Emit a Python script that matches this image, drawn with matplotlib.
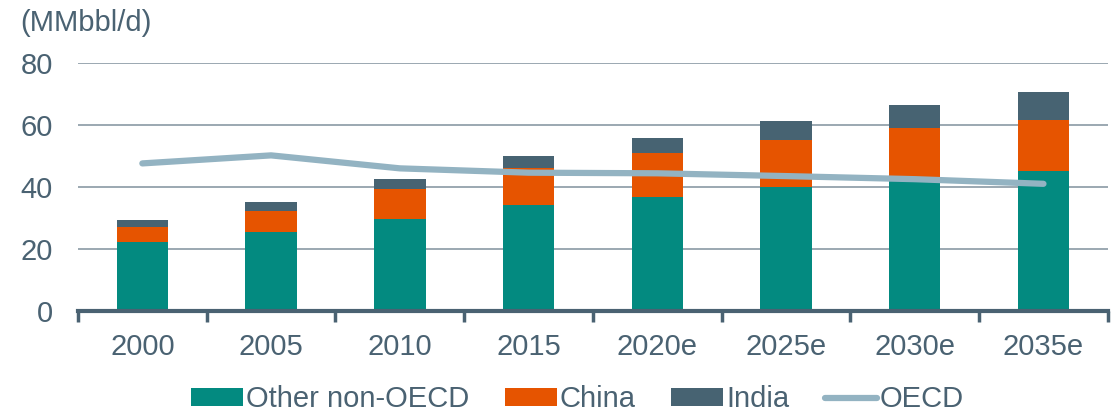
import matplotlib
matplotlib.use("Agg")
import matplotlib.pyplot as plt
import numpy as np

# data (MMbbl/d)
years = ["2000", "2005", "2010", "2015", "2020e", "2025e", "2030e", "2035e"]
other_non_oecd = [22.1, 25.3, 29.6, 34.0, 36.8, 39.9, 41.8, 45.2]
china = [4.8, 6.9, 9.6, 12.0, 14.3, 15.4, 17.2, 16.3]
india = [2.4, 2.8, 3.4, 4.0, 4.8, 6.1, 7.5, 9.1]
oecd = [47.6, 50.2, 46.0, 44.6, 44.4, 43.5, 42.5, 41.0]

c_other = "#038a80"
c_china = "#e65400"
c_india = "#476372"
c_oecd = "#93b3c2"
c_text = "#4a6272"

plt.rcParams["font.family"] = ["Liberation Sans", "DejaVu Sans"]
fs = 21

fig = plt.figure(figsize=(11.17, 4.15), dpi=100)
ax = fig.add_axes([0.0698, 0.2518, 0.922, 0.5957])

x = np.arange(len(years))
w = 0.4
b1 = np.array(other_non_oecd)
b2 = b1 + np.array(china)
h1 = ax.bar(x, other_non_oecd, w, color=c_other, label="Other non-OECD", zorder=2)
h2 = ax.bar(x, china, w, bottom=b1, color=c_china, label="China", zorder=2)
h3 = ax.bar(x, india, w, bottom=b2, color=c_india, label="India", zorder=2)
h4, = ax.plot(x, oecd, color=c_oecd, lw=4.5, solid_capstyle="round", label="OECD", zorder=3)

ax.set_xlim(-0.5, len(years) - 0.5)
ax.set_ylim(0, 80)
ax.set_yticks([0, 20, 40, 60, 80])
ax.yaxis.grid(True, color="#8a9aa4", lw=1.2, zorder=0)
ax.set_axisbelow(True)

for s in ["top", "right", "left"]:
    ax.spines[s].set_visible(False)
ax.spines["bottom"].set_color(c_text)
ax.spines["bottom"].set_linewidth(3)

ax.set_xticks(x)
ax.set_xticklabels(years)
ax.set_xticks(np.arange(-0.5, len(years), 1), minor=True)
ax.tick_params(axis="x", which="major", length=0, pad=16, labelsize=fs, labelcolor=c_text)
ax.tick_params(axis="x", which="minor", length=8, width=2.5, color=c_text)
ax.tick_params(axis="y", length=0, pad=18, labelsize=fs, labelcolor=c_text)

fig.text(0.018, 0.945, "(MMbbl/d)", fontsize=fs, color=c_text, va="center", ha="left")

leg = fig.legend([h1, h2, h3, h4], ["Other non-OECD", "China", "India", "OECD"],
                 loc="center", bbox_to_anchor=(0.517, 0.038), ncol=4, frameon=False,
                 fontsize=fs, handlelength=1.8, handleheight=0.55, handletextpad=0.1,
                 columnspacing=1.2)
for t in leg.get_texts():
    t.set_color(c_text)

fig.savefig("out.png", dpi=100)
